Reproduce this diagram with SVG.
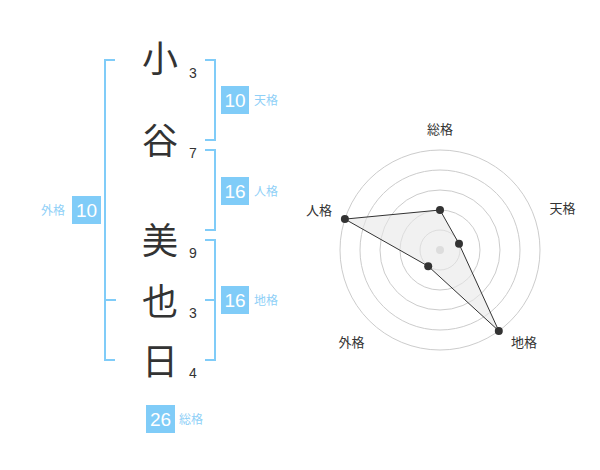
<svg xmlns="http://www.w3.org/2000/svg" width="600" height="470" viewBox="0 0 600 470">
<style>
.kanji{font-family:"Noto Sans CJK JP","Noto Sans CJK SC",sans-serif;font-size:36px;fill:#333;text-anchor:middle}
.num{font-family:"Liberation Sans",Arial,sans-serif;font-size:14px;fill:#333;text-anchor:middle}
.br{fill:none;stroke:#80ccf8;stroke-width:2}
.box{fill:#80ccf8}
.bnum{font-family:"Liberation Sans",Arial,sans-serif;font-size:19px;fill:#fff;text-anchor:middle}
.blab{font-family:"Noto Sans CJK JP","Noto Sans CJK SC",sans-serif;font-size:12px;fill:#8fd0f7}
.ring{fill:none;stroke:#cccccc;stroke-width:1}
.rlab{font-family:"Noto Sans CJK JP","Noto Sans CJK SC",sans-serif;font-size:13px;fill:#333;text-anchor:middle}
.dot{fill:#333}
</style>
<rect width="600" height="470" fill="#fff"/>
<g id="name">
<text class="kanji" x="160" y="72">小</text>
<text class="kanji" x="160" y="154">谷</text>
<text class="kanji" x="160" y="254">美</text>
<text class="kanji" x="160" y="315">也</text>
<text class="kanji" x="160" y="375">日</text>
<text class="num" x="193" y="78">3</text>
<text class="num" x="193" y="158">7</text>
<text class="num" x="193" y="258">9</text>
<text class="num" x="193" y="318">3</text>
<text class="num" x="193" y="378">4</text>
</g>
<g id="connectors">
<path class="br" d="M115,60H105V360H115M105,300H116"/>
<path class="br" d="M205,60H215V140H205"/>
<path class="br" d="M205,150H215V230H205"/>
<path class="br" d="M205,240H215V360H205M205,300H215"/>
</g>
<g id="tenkaku">
<rect class="box" x="221" y="86" width="28" height="28"/>
<text class="bnum" x="235" y="107">10</text>
<text class="blab" x="254" y="104.5">天格</text>
</g>
<g id="jinkaku">
<rect class="box" x="221" y="177" width="28" height="28"/>
<text class="bnum" x="235" y="198">16</text>
<text class="blab" x="254" y="195.5">人格</text>
</g>
<g id="chikaku">
<rect class="box" x="221" y="286" width="28" height="28"/>
<text class="bnum" x="235" y="307">16</text>
<text class="blab" x="254" y="304.5">地格</text>
</g>
<g id="gaikaku">
<rect class="box" x="72" y="196" width="29" height="28"/>
<text class="bnum" x="86.5" y="217">10</text>
<text class="blab" x="65" y="214.5" text-anchor="end">外格</text>
</g>
<g id="soukaku">
<rect class="box" x="146" y="405" width="29" height="28"/>
<text class="bnum" x="160.5" y="426">26</text>
<text class="blab" x="179" y="423.5">総格</text>
</g>
<g id="radar">
<circle class="ring" cx="440" cy="250" r="20"/>
<circle class="ring" cx="440" cy="250" r="40"/>
<circle class="ring" cx="440" cy="250" r="60"/>
<circle class="ring" cx="440" cy="250" r="80"/>
<circle class="ring" cx="440" cy="250" r="100"/>
<circle cx="440" cy="250" r="4" fill="#cccccc"/>
<polygon points="440,210 459,243.8 498.8,330.9 428.2,266.2 344.9,219.1" fill="#e8e8e8" fill-opacity="0.6" stroke="#333" stroke-width="1"/>
<circle class="dot" cx="440" cy="210" r="4"/>
<circle class="dot" cx="459" cy="243.8" r="4"/>
<circle class="dot" cx="498.8" cy="330.9" r="4"/>
<circle class="dot" cx="428.2" cy="266.2" r="4"/>
<circle class="dot" cx="344.9" cy="219.1" r="4"/>
<text class="rlab" x="440" y="133.5">総格</text>
<text class="rlab" x="562.5" y="213">天格</text>
<text class="rlab" x="524" y="346.5">地格</text>
<text class="rlab" x="351.5" y="347">外格</text>
<text class="rlab" x="319" y="214.5">人格</text>
</g>
</svg>
